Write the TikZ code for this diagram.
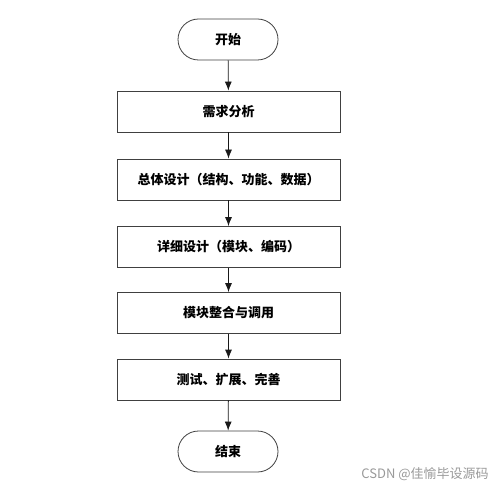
\documentclass[tikz,border=0pt]{standalone}
\usepackage{fontspec}
\newfontfamily\cjk{Noto Sans CJK SC}
\usetikzlibrary{arrows.meta}
\tikzset{
  stepbox/.style={draw=black!75, line width=0.8pt, fill=white,
    minimum width=223pt, minimum height=41pt, inner sep=0pt,
    font=\cjk\bfseries\fontsize{13}{15}\selectfont},
  termbox/.style={stepbox, minimum width=100pt, rounded corners=20.5pt},
  flow/.style={-{Latex[length=9pt,width=7pt]}, line width=0.8pt, black!90}
}

\begin{document}
\begin{tikzpicture}[x=1pt, y=-1pt]
           \useasboundingbox (0,0) rectangle (500,486);

           % Start
           \node[termbox] (start) at (228,39.5) {开始};

           % Steps
           \node[stepbox] (req) at (228.5,111.5) {需求分析};
           \node[stepbox] (overall) at (228.5,179.5) {总体设计（结构、功能、数据）};
           \node[stepbox] (detail) at (228.5,247) {详细设计（模块、编码）};
           \node[stepbox] (integ) at (228.5,313) {模块整合与调用};
           \node[stepbox] (test) at (228.5,379.5) {测试、扩展、完善};

           % End
           \node[termbox] (stop) at (228,451.5) {结束};

           % Arrows
           \draw[flow] (start) -- (req);
           \draw[flow] (req) -- (overall);
           \draw[flow] (overall) -- (detail);
           \draw[flow] (detail) -- (integ);
           \draw[flow] (integ) -- (test);
           \draw[flow] (test) -- (stop);

           % watermark
           \node[text=black!40, font=\cjk\fontsize{13}{15}\selectfont] (mark) at (425,474) {CSDN @佳愉毕设源码};

\end{tikzpicture}
\end{document}
